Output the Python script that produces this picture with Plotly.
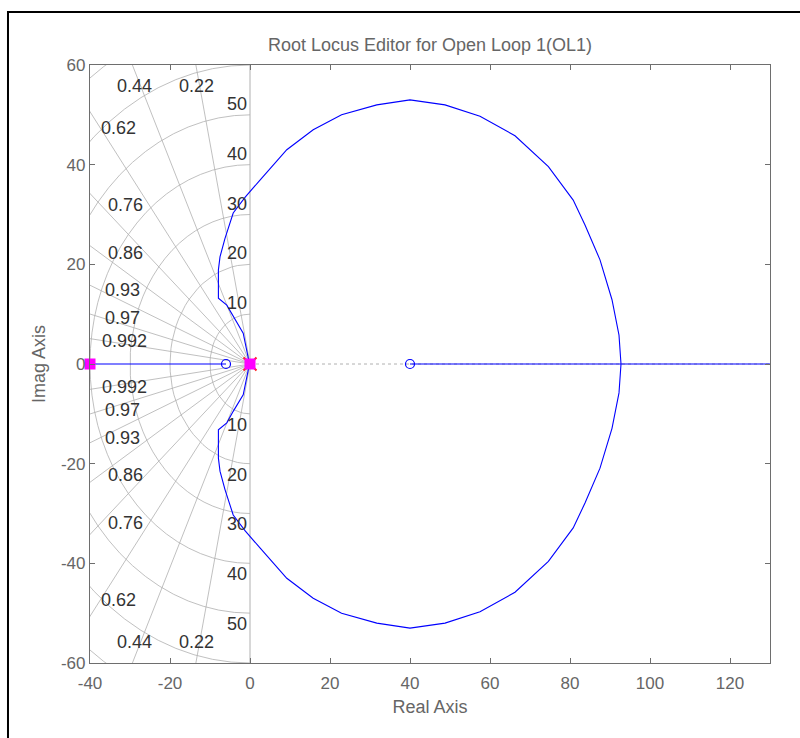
import numpy as np
import plotly.graph_objects as go

# ---- locus data -------------------------------------------------------------
# upper complex branch, from the origin round to the break-in point
locus_re = [0.0, -0.4, -1.7, -4.2, -5.8, -7.9, -7.9, -7.5, -6.25, -4.2, -1.2, 2.5,
            9.2, 15.8, 22.9, 31.7, 40.0, 48.75, 57.5, 66.25, 74.6, 80.8, 83.75,
            87.5, 90.5, 92.25, 92.75]
locus_im = [0.0, 1.1, 6.2, 9.5, 11.8, 13.2, 18.9, 21.5, 25.2, 30.3, 33.5, 36.9,
            43.0, 47.0, 50.0, 52.0, 53.0, 52.0, 49.7, 45.8, 39.6, 32.9, 27.9,
            20.9, 12.9, 5.8, 0.0]

# real-axis locus segments (start, end)
real_seg_start = [-45.0, 40.0]
real_seg_end = [-6.0, 135.0]

open_loop_zeros = [-6.0, 40.0]
closed_loop_poles = [-40.0, 0.0]
compensator_poles = [0.0]

# ---- axes ticks --------------------------------------------------------------
x_ticks = [-40, -20, 0, 20, 40, 60, 80, 100, 120]
y_ticks = [-60, -40, -20, 0, 20, 40, 60]

# ---- s-plane grid ----------------------------------------------------------
zeta_values = [0.22, 0.44, 0.62, 0.76, 0.86, 0.93, 0.97, 0.992]
wn_values = [10, 20, 30, 40, 50, 60, 70]
wn_labels = ["10", "20", "30", "40", "50"]

GRID = "#b0b0b0"
BLUE = "#0000ff"
MAGENTA = "#ff00ff"
TXT = "#333333"
AX = "#6e6e6e"
LBL = "#666666"
FONT = "Liberation Sans, Arial"

fig = go.Figure()

# natural-frequency arcs in the left half plane
th = np.linspace(np.pi / 2, 3 * np.pi / 2, 41)
for wn in wn_values:
    fig.add_trace(go.Scatter(x=wn * np.cos(th), y=wn * np.sin(th), mode="lines",
                             line=dict(color=GRID, width=0.8), hoverinfo="skip"))

# constant damping rays
for z in zeta_values:
    s = np.sqrt(1 - z * z)
    for sg in (1, -1):
        fig.add_trace(go.Scatter(x=[0, -200 * z], y=[0, sg * 200 * s], mode="lines",
                                 line=dict(color=GRID, width=0.8), hoverinfo="skip"))

# imaginary axis (zero damping) and real-axis reference line
fig.add_trace(go.Scatter(x=[0, 0], y=[-80, 80], mode="lines",
                         line=dict(color=GRID, width=1), hoverinfo="skip"))
fig.add_trace(go.Scatter(x=[0, 140], y=[0, 0], mode="lines",
                         line=dict(color=GRID, width=1, dash="dot"), hoverinfo="skip"))

# root locus: complex branches (upper then mirrored lower)
re = np.array(locus_re)
im = np.array(locus_im)
fig.add_trace(go.Scatter(x=np.concatenate([re, re[::-1]]),
                         y=np.concatenate([im, -im[::-1]]),
                         mode="lines", line=dict(color=BLUE, width=1.1), hoverinfo="skip"))
for a, b in zip(real_seg_start, real_seg_end):
    fig.add_trace(go.Scatter(x=[a, b], y=[0, 0], mode="lines",
                             line=dict(color=BLUE, width=1.1), hoverinfo="skip"))

# open-loop zeros
fig.add_trace(go.Scatter(x=open_loop_zeros, y=[0] * len(open_loop_zeros), mode="markers",
                         marker=dict(symbol="circle-open", size=9, color=BLUE,
                                     line=dict(width=1.2, color=BLUE)),
                         hoverinfo="skip"))
# compensator pole
fig.add_trace(go.Scatter(x=compensator_poles, y=[0] * len(compensator_poles), mode="markers",
                         marker=dict(symbol="x-thin-open", size=13, color="#ff2020",
                                     line=dict(width=2, color="#ff2020")),
                         hoverinfo="skip"))
# closed-loop poles at the current gain
fig.add_trace(go.Scatter(x=closed_loop_poles, y=[0] * len(closed_loop_poles), mode="markers",
                         marker=dict(symbol="square", size=11, color=MAGENTA),
                         cliponaxis=False, hoverinfo="skip"))

# damping labels (placed near the plot edge, mirrored below)
zeta_label_pos = [(-13.5, 55.8), (-28.9, 55.8), (-33.0, 47.4), (-31.25, 31.9),
                  (-31.25, 22.3), (-32.0, 14.9), (-32.0, 9.2), (-31.5, 4.6)]
annotations = []
for z, (lx, ly) in zip(zeta_values, zeta_label_pos):
    for sg in (1, -1):
        annotations.append(dict(x=lx, y=sg * ly, text=f"{z:g}", showarrow=False,
                                font=dict(size=18, color=TXT, family=FONT),
                                xanchor="center", yanchor="middle"))
# natural-frequency labels next to the imaginary axis
for t in wn_labels:
    w = float(t)
    for sg in (1, -1):
        annotations.append(dict(x=-0.2, y=sg * (w + 2.2), text=t, showarrow=False,
                                font=dict(size=18, color=TXT, family=FONT),
                                xanchor="right", yanchor="middle"))

fig.update_layout(
    width=800, height=738,
    margin=dict(l=90, r=30, t=65, b=75),
    paper_bgcolor="white", plot_bgcolor="white",
    showlegend=False,
    font=dict(family=FONT, color=LBL, size=16),
    title=dict(text="Root Locus Editor for Open Loop 1(OL1)", x=0.5375, xanchor="center",
               y=1 - 45 / 738, yanchor="middle",
               font=dict(size=18, color=LBL)),
    annotations=annotations,
    shapes=[dict(type="rect", xref="paper", yref="paper",
                 x0=-0.1206, x1=1.2, y0=-0.3, y1=1.0886,
                 line=dict(color="black", width=2), layer="above")],
)
fig.update_xaxes(range=[-40, 130], tickvals=x_ticks, ticktext=[str(v) for v in x_ticks],
                 showgrid=False, zeroline=False, showline=True, linecolor=AX, linewidth=1.2,
                 mirror="allticks", ticks="inside", ticklen=5, tickcolor=AX,
                 ticklabelstandoff=4,
                 title=dict(text="Real Axis", font=dict(size=18, color=LBL), standoff=8),
                 tickfont=dict(size=17, color=LBL))
fig.update_yaxes(range=[-60, 60], tickvals=y_ticks, ticktext=[str(v) for v in y_ticks],
                 showgrid=False, zeroline=False, showline=True, linecolor=AX, linewidth=1.2,
                 mirror="allticks", ticks="inside", ticklen=5, tickcolor=AX,
                 title=dict(text="Imag Axis", font=dict(size=18, color=LBL), standoff=10),
                 tickfont=dict(size=17, color=LBL))

fig.write_html("out.html")
